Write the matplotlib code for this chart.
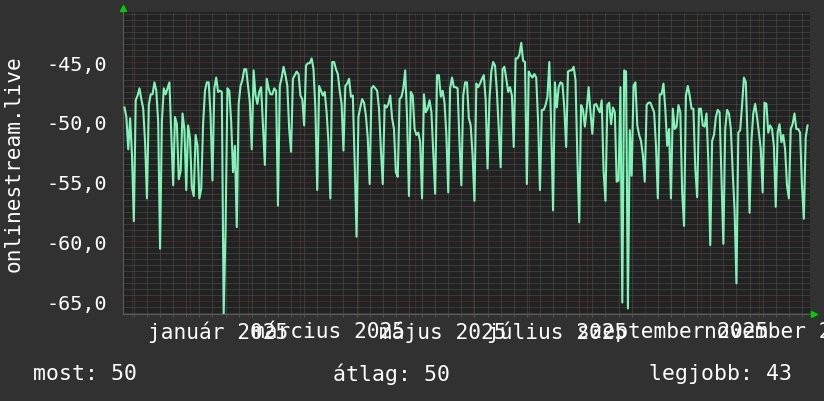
import matplotlib
matplotlib.use('Agg')
import matplotlib.pyplot as plt
import matplotlib.dates as mdates
from matplotlib.ticker import MultipleLocator, FixedLocator
import pandas as pd

# daily values, starting 2024-11-27
START = '2024-11-27'
values = [
    -48.8, -49.6, -52.3, -49.7, -52.8, -58.3, -48.2, -47.8, -47.2, -48.1,
    -48.9, -51.7, -56.4, -48.6, -47.7, -47.7, -46.7, -47.4, -50.0, -60.6,
    -49.9, -47.2, -47.7, -47.2, -46.7, -51.1, -55.3, -49.6, -50.2, -54.8,
    -54.1, -49.3, -50.6, -55.7, -50.3, -51.4, -55.5, -56.2, -51.1, -52.0,
    -56.4, -55.6, -50.2, -47.4, -46.7, -46.7, -49.5, -54.9, -47.2, -46.3,
    -47.5, -47.4, -47.5, -66.1, -59.0, -47.2, -47.4, -50.0, -54.2, -52.0,
    -58.8, -48.5, -47.0, -46.5, -45.6, -45.6, -47.0, -48.4, -52.3, -45.7,
    -47.8, -48.5, -47.5,
    -47.1, -50.3, -53.6, -46.4, -47.2, -47.7, -47.7, -47.2, -47.4, -57.0,
    -47.0, -46.3, -45.4, -46.1, -47.0, -50.6, -52.5, -46.4, -46.1, -45.8,
    -46.0, -47.8, -48.1, -50.3, -45.3, -45.1, -45.1, -44.7, -45.6, -48.9,
    -55.7, -47.0, -47.4, -47.8, -47.5, -49.2, -51.7, -56.4, -45.0, -45.0,
    -45.6, -46.0, -47.4, -48.5, -52.4, -47.0, -46.8, -46.4, -47.9, -47.8,
    -53.4, -59.6, -49.6, -48.8, -48.1, -48.4, -49.5, -51.4, -55.2, -47.2,
    -47.0, -47.2, -47.4, -48.9, -52.3, -55.2, -48.6, -48.8, -48.5, -47.8,
    -49.7, -50.6, -54.2, -54.6, -48.1,
    -47.9, -47.2, -45.7, -49.7, -56.2, -47.5, -47.8, -50.6, -51.1, -50.9,
    -51.7, -56.4, -47.7, -49.2, -48.9, -48.2, -49.2, -52.7, -56.0, -46.1,
    -46.1, -47.9, -47.4, -48.4, -51.1, -55.9, -47.2, -46.3, -47.1, -47.1,
    -47.2, -51.7, -55.3, -47.8, -46.7, -46.7, -49.7, -50.3, -52.8, -56.6,
    -46.8, -47.1, -46.8, -46.4, -46.1, -48.2, -53.9, -48.2, -45.8, -45.0,
    -45.3, -47.5, -50.6, -53.8, -45.6, -45.4, -46.4, -47.5, -47.1, -47.8,
    -52.1, -44.7, -44.7, -44.4, -43.4, -44.9, -45.0, -55.2, -45.8, -46.1,
    -46.3, -46.0, -46.3,
    -49.9, -55.7, -49.0, -49.0, -48.6, -47.9, -45.0, -50.3, -57.4, -46.7,
    -48.8, -47.1, -46.7, -46.8, -48.8, -52.1, -45.8, -45.7, -45.7, -45.4,
    -46.5, -53.0, -58.4, -48.6, -49.0, -50.4, -48.9, -47.1, -49.2, -51.0,
    -48.6, -48.5, -48.9, -49.2, -48.2, -54.1, -56.6, -48.6, -48.4, -50.2,
    -48.8, -49.2, -55.0, -54.9, -47.1, -65.1, -45.7, -45.8, -65.6, -50.7,
    -54.5, -47.0, -46.7, -50.3, -51.1, -51.6, -52.8, -55.0, -48.6, -48.4,
    -48.4, -48.8, -49.2, -52.0, -56.4, -47.7, -47.7, -46.8, -49.0, -52.0,
    -50.6, -56.4, -48.9, -50.6,
    -50.4, -48.6, -49.2, -55.9, -58.7, -47.8, -47.0, -47.8, -48.9, -48.9,
    -53.9, -56.3, -48.9, -48.9, -50.3, -50.4, -49.3, -53.4, -60.3, -51.6,
    -51.1, -49.6, -49.0, -49.2, -54.8, -60.2, -50.6, -49.0, -49.3, -50.6,
    -54.2, -57.4, -63.5, -50.9, -50.7, -48.6, -46.3, -46.7, -51.7, -57.6,
    -51.6, -49.3, -48.5, -49.6, -50.9, -52.3, -55.9, -48.4, -48.5, -50.9,
    -50.3, -50.6, -52.0, -57.1, -50.9, -50.2, -51.7, -51.1, -52.3, -55.3,
    -56.4, -50.6, -50.2, -49.3, -50.6, -50.6, -50.9, -55.3, -58.1, -51.3,
    -50.3,
]

month_names = ['január', 'március', 'május', 'július', 'szeptember', 'november']
label_months = ['2025-01-01', '2025-03-01', '2025-05-01', '2025-07-01',
                '2025-09-01', '2025-11-01']
y_ticks = [-65, -60, -55, -50, -45]
legend_items = ['most: 50', 'átlag: 50', 'legjobb: 43']

CANVAS = '#313131'
BACK = '#222222'
LINE = '#7ff5b8'
MINOR = '#525252'
MAJOR = '#6a2e2e'
ARROW = '#00d000'
FONT = 'DejaVu Sans Mono'

dates = pd.date_range(START, periods=len(values), freq='D')
x = mdates.date2num(dates)

fig = plt.figure(figsize=(8.24, 4.02), dpi=100, facecolor=CANVAS)
W, H = 824, 402
left, right, top, bottom = 123, 810, 13, 315
ax = fig.add_axes([left / W, 1 - bottom / H, (right - left) / W, (bottom - top) / H])
ax.set_facecolor(BACK)

ax.plot(x, values, color=LINE, linewidth=1.5, zorder=3)

x0 = x[0] - 0.8
x1 = x[0] + 366.3
ax.set_xlim(x0, x1)
ax.set_ylim(-66.06, -40.82)

# grid
months = mdates.date2num(pd.date_range('2024-12-01', '2025-11-01', freq='MS'))
weeks = mdates.date2num(pd.date_range('2024-12-02', '2025-11-30', freq='W-MON'))
ax.xaxis.set_major_locator(FixedLocator(months))
ax.xaxis.set_minor_locator(FixedLocator(weeks))
ax.yaxis.set_major_locator(FixedLocator(y_ticks))
ax.yaxis.set_minor_locator(MultipleLocator(0.5))
ax.grid(which='minor', color=MINOR, linestyle=(0, (1, 1)), linewidth=0.72, zorder=1)
ax.grid(which='major', color=MAJOR, linestyle=(0, (1, 1)), linewidth=0.72, zorder=2)
ax.set_axisbelow(True)

ax.tick_params(axis='x', which='both', labelbottom=False, length=2.5, width=0.72,
               direction='out')
ax.tick_params(axis='x', which='major', color=MAJOR)
ax.tick_params(axis='x', which='minor', color=MINOR)
ax.tick_params(axis='y', which='both', length=0, pad=11.5)
ax.set_yticklabels([f'{v:.1f}'.replace('.', ',') for v in y_ticks],
                   fontsize=14.5, color='white', family=FONT)

for s in ['top', 'right']:
    ax.spines[s].set_visible(False)
for s in ['left', 'bottom']:
    ax.spines[s].set_color('#5a5a5a')
    ax.spines[s].set_linewidth(0.8)

# arrows at axis ends
ax.plot([0], [1 + 4 / 302], marker='^', markersize=4, color=ARROW,
        transform=ax.transAxes, clip_on=False, zorder=5)
ax.plot([1 + 4 / 687], [0], marker='>', markersize=4, color=ARROW,
        transform=ax.transAxes, clip_on=False, zorder=5)

# month labels, centered half a month after the month start
trans = ax.get_xaxis_transform()
for name, m in zip(month_names, label_months):
    pos = mdates.date2num(pd.Timestamp(m)) + 15
    ax.text(pos, -17 / 302, f'{name} 2025', transform=trans, ha='center', va='center',
            fontsize=15.2, color='white', family=FONT, clip_on=False)

fig.text(14 / W, 1 - 164 / H, 'onlinestream.live', rotation=90, ha='center', va='center',
         fontsize=15.2, color='white', family=FONT)

fig.text(33 / W, 1 - 374 / H, legend_items[0], ha='left', va='center',
         fontsize=15.5, color='white', family=FONT)
fig.text(333 / W, 1 - 374 / H, legend_items[1], ha='left', va='center',
         fontsize=15.5, color='white', family=FONT)
fig.text(792 / W, 1 - 374 / H, legend_items[2], ha='right', va='center',
         fontsize=15.5, color='white', family=FONT)

fig.savefig('out.png', dpi=100, facecolor=CANVAS)
